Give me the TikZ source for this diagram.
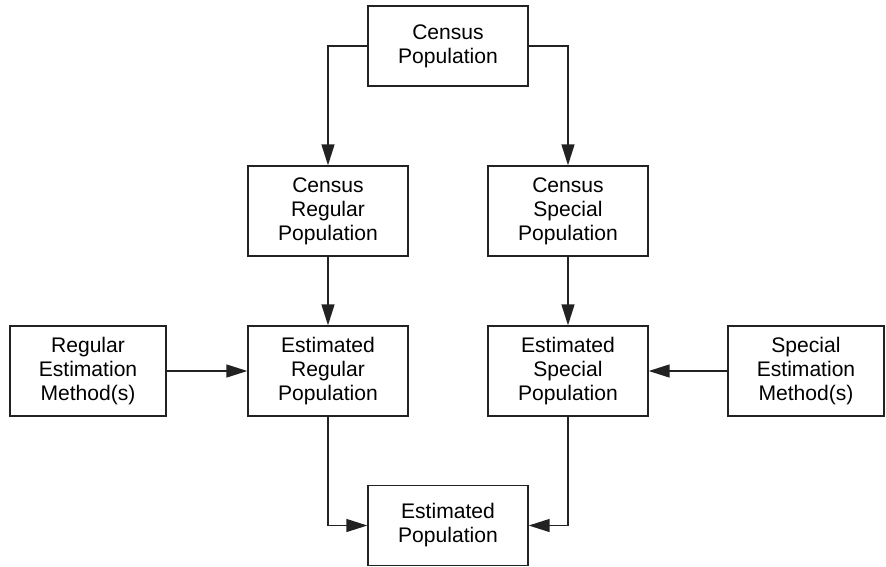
\documentclass[tikz,border=0pt]{standalone}
\usepackage{fontspec}
\setmainfont{Liberation Sans}
\usetikzlibrary{arrows.meta,positioning}
\usepackage{xcolor}
\definecolor{inkgray}{HTML}{222222}

\begin{document}
\begin{tikzpicture}[
      x=0.02cm, y=-0.02cm,
      box/.style={
        draw=inkgray, line width=0.8pt, align=center, inner sep=0pt,
        minimum width=3.2cm, minimum height=1.8cm,
        font=\fontsize{12}{13.7}\selectfont
      },
      shortbox/.style={box, minimum height=1.6cm},
      arrow/.style={-{Triangle[length=0.42cm, width=0.26cm]}, line width=0.8pt, draw=inkgray}
    ]
    \useasboundingbox (0,0) rectangle (886,566);

    \node[shortbox] (census) at (448,46) {Census\\Population};
    \node[box] (cregular) at (328,211) {Census\\Regular\\Population};
    \node[box] (cspecial) at (568,211) {Census\\Special\\Population};
    \node[box] (eregular) at (328,371) {Estimated\\Regular\\Population};
    \node[box] (especial) at (568,371) {Estimated\\Special\\Population};
    \node[box, minimum width=3.12cm] (rmethod) at (88,371) {Regular\\Estimation\\Method(s)};
    \node[box, minimum width=3.12cm] (smethod) at (806,371) {Special\\Estimation\\Method(s)};
    \node[shortbox] (estimated) at (448,525.5) {Estimated\\Population};

    \draw[arrow] (census.west) -| (cregular.north);
    \draw[arrow] (census.east) -| (cspecial.north);
    \draw[arrow] (cregular) -- (eregular);
    \draw[arrow] (cspecial) -- (especial);
    \draw[arrow] (rmethod) -- (eregular);
    \draw[arrow] (smethod) -- (especial);
    \draw[arrow] (eregular.south) |- (estimated.west);
    \draw[arrow] (especial.south) |- (estimated.east);
  \end{tikzpicture}
\end{document}
